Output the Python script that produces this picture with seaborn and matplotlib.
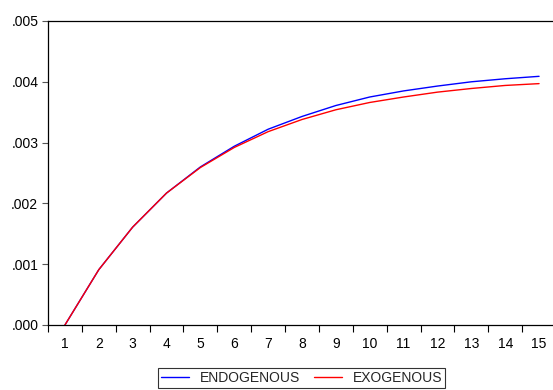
import matplotlib
matplotlib.use("Agg")
import matplotlib.pyplot as plt
import seaborn as sns
import pandas as pd
import numpy as np

periods = list(range(1, 16))
endogenous = [0.0, 0.00091, 0.00161, 0.00217, 0.00260, 0.00294, 0.00322, 0.00343,
              0.00361, 0.00375, 0.00385, 0.00393, 0.00400, 0.00405, 0.00409]
exogenous = [0.0, 0.00091, 0.00161, 0.00217, 0.00259, 0.00292, 0.00318, 0.00338,
             0.00354, 0.00366, 0.00375, 0.00383, 0.00389, 0.00394, 0.00397]
series_names = ["ENDOGENOUS", "EXOGENOUS"]
y_ticks = [0.0, 0.001, 0.002, 0.003, 0.004, 0.005]
y_tick_labels = [".000", ".001", ".002", ".003", ".004", ".005"]

df = pd.DataFrame({
    "period": periods * 2,
    "value": endogenous + exogenous,
    "series": [series_names[0]] * len(periods) + [series_names[1]] * len(periods),
})

sns.set_style("white")
plt.rcParams["font.family"] = ["Liberation Sans", "DejaVu Sans"]

fig = plt.figure(figsize=(5.53, 3.90), dpi=100)
ax = fig.add_axes([48 / 553, 65 / 390, 508 / 553, 304 / 390])

sns.lineplot(data=df, x="period", y="value", hue="series",
             palette={"ENDOGENOUS": "#0000ff", "EXOGENOUS": "#ff0000"},
             linewidth=1.0, ax=ax, legend=False)

ax.set_xlim(0.5, 15.5)
ax.set_ylim(0.0, 0.005)
ax.set_xlabel("")
ax.set_ylabel("")

# x: labels at integers (no tick marks), tick marks at half positions
ax.set_xticks(periods)
ax.set_xticklabels([str(p) for p in periods])
ax.set_xticks([p - 0.5 for p in periods] + [15.5], minor=True)
ax.tick_params(axis="x", which="major", length=0, pad=9, labelsize=10, colors="black")
ax.tick_params(axis="x", which="minor", length=5, width=0.8, direction="out",
               bottom=True, color="black")

ax.set_yticks(y_ticks)
ax.set_yticklabels(y_tick_labels)
ax.tick_params(axis="y", which="major", length=4, width=0.8, direction="out",
               left=True, pad=3, labelsize=10, labelcolor="black", color="#555555")

for side in ["left", "top", "bottom"]:
    ax.spines[side].set_visible(True)
    ax.spines[side].set_color("black")
    ax.spines[side].set_linewidth(0.9)
ax.spines["right"].set_visible(False)

handles = [plt.Line2D([], [], color="#0000ff", lw=1.0),
           plt.Line2D([], [], color="#ff0000", lw=1.0)]
leg = fig.legend(handles, series_names, loc="lower center",
                 bbox_to_anchor=(301.5 / 553, 2 / 390), ncol=2, frameon=True,
                 fancybox=False, edgecolor="black", fontsize=10,
                 handlelength=2.0, handletextpad=0.8, columnspacing=1.0,
                 borderpad=0.2, borderaxespad=0)
leg.get_frame().set_linewidth(0.8)

fig.savefig("out.png", dpi=100)
